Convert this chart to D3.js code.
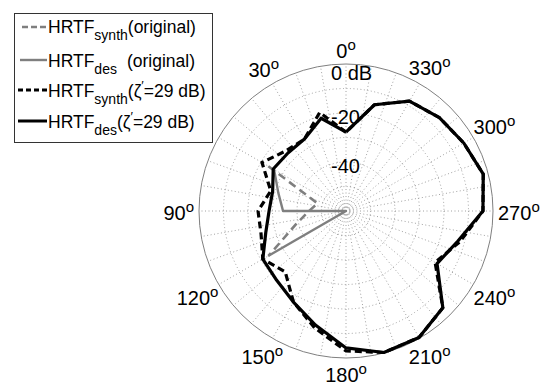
<!DOCTYPE html>
<html>
<head>
<meta charset="utf-8">
<script src="https://cdn.jsdelivr.net/npm/d3@7/dist/d3.min.js"></script>
<style>
  html, body { margin: 0; padding: 0; background: #fff; }
  svg { display: block; font-family: "Liberation Sans", Arial, Helvetica, sans-serif; }
</style>
</head>
<body>
<svg id="chart" width="552" height="384"></svg>
<script>
// ---- data (dB values) ----
const angles = [0,15,30,45,60,75,90,105,120,135,150,165,180,195,210,225,240,255,270,285,300,315,330,345];
const desZeta   = [-27.8,-20.8,-26.1,-26.5,-25.7,-29.0,-28.6,-26.1,-20.8,-20.0,-17.1,-11.8,-4.1,-0.2,-0.4,-4.1,-17.1,-12.7,-4.1,-2.0,-4.5,-6.1,-8.2,-15.1];
const synthZeta = [-27.8,-18.4,-26.1,-25.3,-20.4,-28.2,-24.1,-24.1,-20.8,-24.9,-17.1,-10.6,-2.9,-0.2,-0.4,-4.1,-18.0,-11.8,-4.1,-2.0,-4.5,-6.1,-8.2,-15.1];
const origAngles = [60,75,90,105,120];
const desOrig   = [-26.1,-31.4,-34.3,-60,-23.3];
const synthOrig = [-23.4,-48.0,-44.9,-38.8,-23.5];
const ringValues = [-50,-40,-30,-20,-10];
const rLabelValues = [0,-20,-40];
const rLabelTexts = ["0 dB","-20","-40"];
const spokeAngles = d3.range(0,360,10);
// 60° label is hidden under the legend in the reference
const angleTicks = [0,30,90,120,150,180,210,240,270,300,330];
const legendLabels = [
  {main:"HRTF", sub:"synth", rest:"(original)"},
  {main:"HRTF", sub:"des", rest:"(original)", gap:true},
  {main:"HRTF", sub:"synth", rest:"zeta"},
  {main:"HRTF", sub:"des", rest:"zeta"}
];

// ---- layout ----
const cx = 346, cy = 211, R = 147;
const svg = d3.select("#chart");
const r = d3.scaleLinear().domain([-60,0]).range([0,R]).clamp(true);
const rad = d => d * Math.PI / 180;
const px = (a, rr) => cx - rr * Math.sin(rad(a));
const py = (a, rr) => cy - rr * Math.cos(rad(a));

const g = svg.append("g");

// grid rings
g.selectAll("circle.ring").data(ringValues).join("circle")
  .attr("cx", cx).attr("cy", cy).attr("r", d => r(d))
  .attr("fill", "none").attr("stroke", "#8a8a8a").attr("stroke-width", 0.8)
  .attr("stroke-dasharray", "1,2.5");
// spokes
g.selectAll("line.spoke").data(spokeAngles).join("line")
  .attr("x1", cx).attr("y1", cy)
  .attr("x2", d => px(d, R)).attr("y2", d => py(d, R))
  .attr("stroke", "#8a8a8a").attr("stroke-width", 0.8)
  .attr("stroke-dasharray", "1,2.5");
// outer circle
g.append("circle").attr("cx", cx).attr("cy", cy).attr("r", r(0))
  .attr("fill", "none").attr("stroke", "#808080").attr("stroke-width", 1);

// radial labels
g.selectAll("text.rl").data(rLabelValues).join("text")
  .attr("x", 331).attr("y", d => cy - r(d) + (d === 0 ? 16 : 11))
  .attr("font-size", 20).attr("fill", "#000")
  .text((d, i) => rLabelTexts[i]);

// angle labels
angleTicks.forEach(a => {
  const t = g.append("text").attr("font-size", 20).attr("fill", "#000")
    .attr("text-anchor", "middle");
  t.append("tspan").text(String(a));
  t.append("tspan").attr("dy", -8).attr("font-size", 15).text("o");
  const w = t.node().getComputedTextLength();
  const s = Math.abs(Math.sin(rad(a)));
  const d = 162 + s * (w / 2 - 10);
  t.attr("x", px(a, d)).attr("y", py(a, d) + 8.5);
});

// curves
const line = d3.lineRadial()
  .angle(d => -rad(d[0]))
  .radius(d => r(d[1]));
const closed = vals => { const p = angles.map((a, i) => [a, vals[i]]); p.push(p[0]); return p; };
const open = vals => origAngles.map((a, i) => [a, vals[i]]);

const curves = g.append("g").attr("transform", `translate(${cx},${cy})`)
  .attr("fill", "none").attr("stroke-linejoin", "round");
curves.append("path").attr("d", line(open(synthOrig)))
  .attr("stroke", "#7f7f7f").attr("stroke-width", 2.6).attr("stroke-dasharray", "8,5");
curves.append("path").attr("d", line(open(desOrig)))
  .attr("stroke", "#7f7f7f").attr("stroke-width", 2.4);
curves.append("path").attr("d", line(closed(synthZeta)))
  .attr("stroke", "#000").attr("stroke-width", 3.2).attr("stroke-dasharray", "7,4");
curves.append("path").attr("d", line(closed(desZeta)))
  .attr("stroke", "#000").attr("stroke-width", 3.2);

// legend
const lg = svg.append("g");
lg.append("rect").attr("x", 14.5).attr("y", 13.5).attr("width", 198).attr("height", 129)
  .attr("fill", "#fff").attr("stroke", "#333").attr("stroke-width", 1);
const lineYs = [27, 60, 90, 121];
const baseYs = [33, 67, 97, 128];
const lstyles = [
  {c:"#7f7f7f", w:2.6, dash:"6,3", x1:22},
  {c:"#7f7f7f", w:2.4, dash:null, x1:20},
  {c:"#000", w:3, dash:"5,3", x1:18},
  {c:"#000", w:3, dash:null, x1:18}
];
legendLabels.forEach((L, i) => {
  const st = lstyles[i];
  const ln = lg.append("line").attr("x1", st.x1).attr("x2", 47)
    .attr("y1", lineYs[i]).attr("y2", lineYs[i])
    .attr("stroke", st.c).attr("stroke-width", st.w);
  if (st.dash) ln.attr("stroke-dasharray", st.dash);
  const t = lg.append("text").attr("x", 48).attr("y", baseYs[i]).attr("font-size", 17.5).attr("fill", "#000");
  t.append("tspan").text(L.main);
  t.append("tspan").attr("dy", 7).attr("font-size", 14).text(L.sub);
  if (L.rest === "zeta") {
    t.append("tspan").attr("dy", -7).text("(ζ");
    t.append("tspan").attr("dy", -7).attr("font-size", 13).text("′");
    t.append("tspan").attr("dy", 7).text("=29 dB)");
  } else {
    const sp = t.append("tspan").attr("dy", -7).text(L.rest);
    if (L.gap) sp.attr("dx", 10);
  }
});
</script>
</body>
</html>
